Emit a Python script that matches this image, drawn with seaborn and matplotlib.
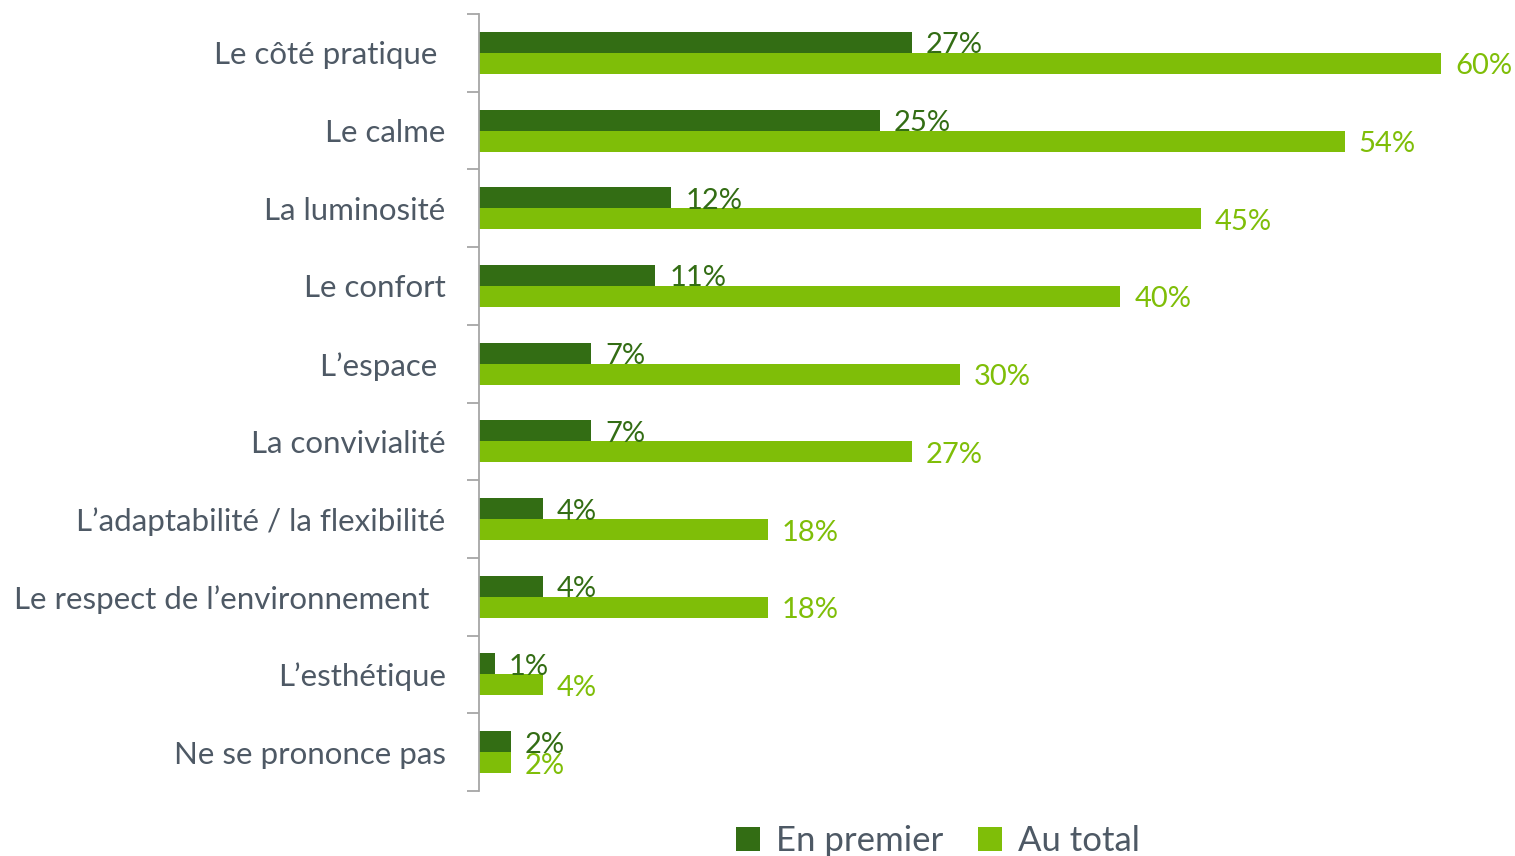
import matplotlib
matplotlib.use("Agg")
import matplotlib.pyplot as plt
import seaborn as sns
import pandas as pd
from matplotlib.patches import Patch
from matplotlib.ticker import FixedLocator

categories = ["Le côté pratique ", "Le calme", "La luminosité", "Le confort", "L’espace ",
              "La convivialité", "L’adaptabilité / la flexibilité",
              "Le respect de l’environnement  ", "L’esthétique", "Ne se prononce pas"]
en_premier = [27, 25, 12, 11, 7, 7, 4, 4, 1, 2]
au_total = [60, 54, 45, 40, 30, 27, 18, 18, 4, 2]
series = ["En premier", "Au total"]
colors = ["#336D14", "#7FBE08"]

df = pd.DataFrame({
    "cat": categories * 2,
    "val": en_premier + au_total,
    "serie": [series[0]] * len(categories) + [series[1]] * len(categories),
})

sns.set_theme(style="white")
plt.rcParams["font.family"] = ["Lato", "DejaVu Sans"]
txt = "#4E5965"

fig = plt.figure(figsize=(15.15, 8.56), dpi=100)
ax = fig.add_axes([479/1515, 1-791/856, (1441-479)/1515, (791-14)/856])
sns.barplot(data=df, y="cat", x="val", hue="serie", orient="h", palette=colors,
            width=0.54, ax=ax, legend=False, saturation=1, edgecolor="none")
ax.set_xlim(0, 60)
ax.set_ylim(len(categories) - 0.5, -0.5)
ax.set_xlabel("")
ax.set_ylabel("")
ax.set_xticks([])
for s in ["top", "right", "bottom"]:
    ax.spines[s].set_visible(False)
ax.spines["left"].set_color("#A6A6A6")
ax.spines["left"].set_linewidth(1.3)
ax.yaxis.set_minor_locator(FixedLocator([i - 0.5 for i in range(len(categories) + 1)]))
ax.tick_params(axis="y", which="major", length=0, pad=24, labelsize=22.5, labelcolor=txt)
ax.tick_params(axis="y", which="minor", left=True, length=9, width=1.3, color="#A6A6A6")

for ci, (cont, col) in enumerate(zip(ax.containers, colors)):
    vals = [en_premier, au_total][ci]
    for bar, v in zip(cont, vals):
        y = bar.get_y() + bar.get_height() / 2
        ax.annotate(f"{v}%", (bar.get_width(), y), xytext=(14, -3), textcoords="offset pixels",
                    ha="left", va="center", color=col, fontsize=21, annotation_clip=False)

handles = [Patch(facecolor=c, edgecolor="none") for c in colors]
fig.legend(handles, series, loc="lower center", bbox_to_anchor=(0.619, -0.038), ncol=2,
           frameon=False, fontsize=25, labelcolor=txt, handlelength=0.7, handleheight=0.7,
           handletextpad=0.45, columnspacing=1.0)

fig.savefig("out.png", dpi=100)
